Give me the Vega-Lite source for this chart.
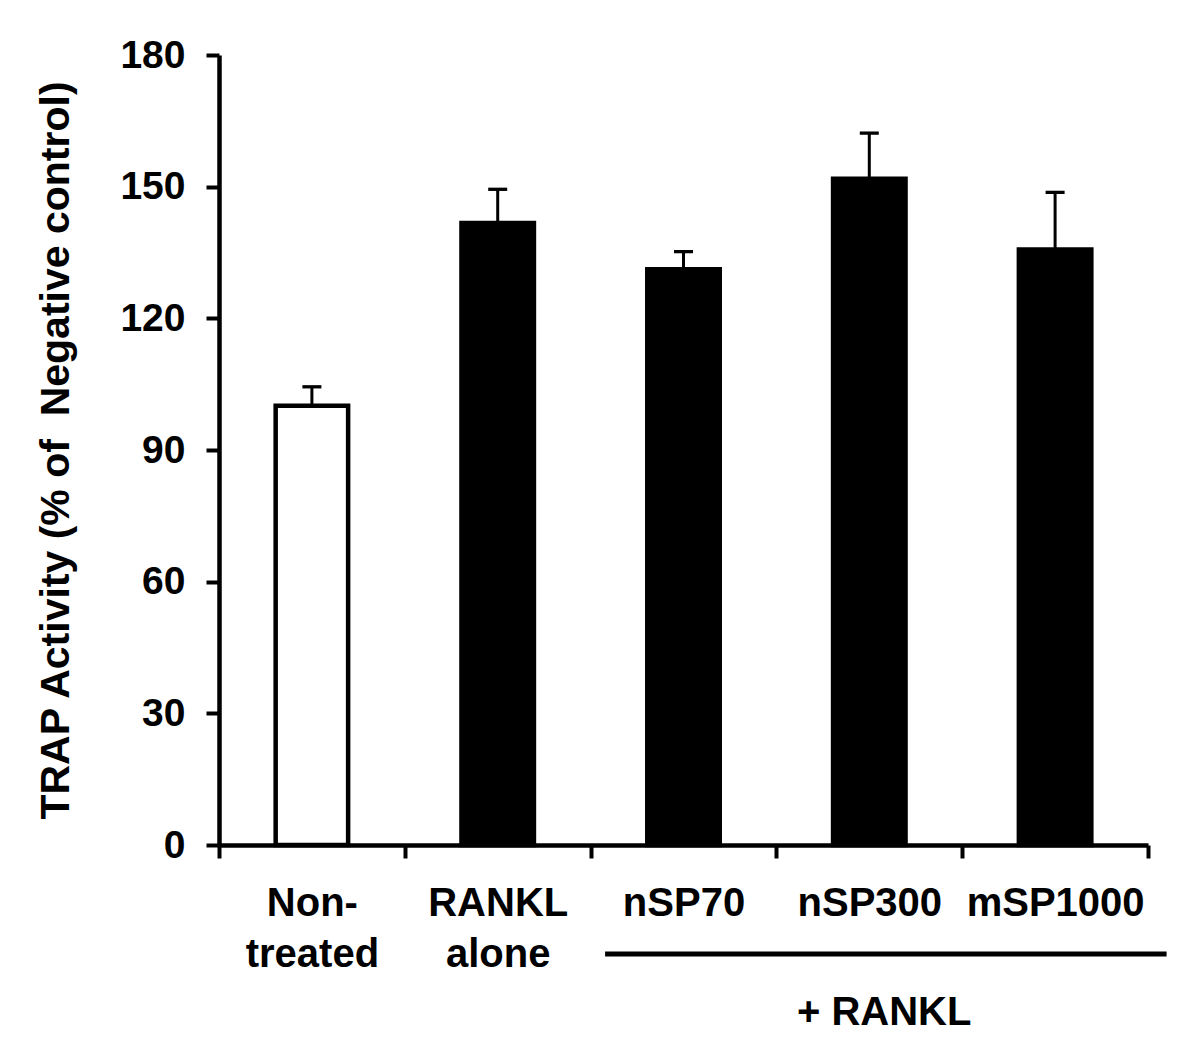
{
  "$schema": "https://vega.github.io/schema/vega-lite/v6.json",
  "width": 929,
  "height": 790,
  "autosize": {"type": "none"},
  "padding": {"left": 219, "top": 55, "right": 52, "bottom": 198},
  "background": "white",
  "config": {"view": {"stroke": null}, "font": "Liberation Sans"},
  "datasets": {
    "bars": [
      {"treatment": "Non-treated", "group": "control", "activity": 100.1, "error_upper": 104.4},
      {"treatment": "RANKL alone", "group": "RANKL", "activity": 141.7, "error_upper": 149.4},
      {"treatment": "nSP70", "group": "RANKL", "activity": 131.2, "error_upper": 135.2},
      {"treatment": "nSP300", "group": "RANKL", "activity": 151.8, "error_upper": 162.2},
      {"treatment": "mSP1000", "group": "RANKL", "activity": 135.7, "error_upper": 148.7}
    ],
    "bracket": [
      {"label": "+ RANKL", "first": "nSP70", "middle": "nSP300", "last": "mSP1000"}
    ]
  },
  "layer": [
    {
      "data": {"name": "bars"},
      "mark": {"type": "bar", "stroke": "black", "strokeWidth": 4.5, "width": {"band": 0.39}},
      "encoding": {
        "x": {
          "field": "treatment", "type": "nominal", "sort": null, "title": null,
          "scale": {"domain": ["Non-treated", "RANKL alone", "nSP70", "nSP300", "mSP1000"], "paddingInner": 0, "paddingOuter": 0},
          "axis": {
            "domainColor": "black", "domainWidth": 4.5, "tickColor": "black", "tickWidth": 4, "tickSize": 13,
            "tickBand": "extent", "labelAngle": 0, "labelFont": "Liberation Sans", "labelFontWeight": "bold",
            "labelFontSize": 40, "labelColor": "black", "labelPadding": 25, "labelLineHeight": 51, "grid": false,
            "labelExpr": "datum.value === 'Non-treated' ? ['Non-', 'treated'] : datum.value === 'RANKL alone' ? ['RANKL', 'alone'] : datum.label"
          }
        },
        "y": {
          "field": "activity", "type": "quantitative", "title": "TRAP Activity (% of\u00a0 Negative control)",
          "scale": {"domain": [0, 180], "nice": false},
          "axis": {
            "domainColor": "black", "domainWidth": 4.5, "tickColor": "black", "tickWidth": 4, "tickSize": 13,
            "values": [0, 30, 60, 90, 120, 150, 180], "labelFont": "Liberation Sans", "labelFontWeight": "bold",
            "labelFontSize": 39, "labelColor": "black", "labelPadding": 21, "grid": false,
            "titleFont": "Liberation Sans", "titleFontSize": 41, "titleFontWeight": "bold", "titleColor": "black", "titlePadding": 42
          }
        },
        "fill": {"field": "group", "type": "nominal", "scale": {"domain": ["control", "RANKL"], "range": ["white", "black"]}, "legend": null}
      }
    },
    {
      "data": {"name": "bars"},
      "mark": {"type": "rule", "strokeWidth": 3, "color": "black"},
      "encoding": {
        "x": {"field": "treatment", "type": "nominal", "title": null},
        "y": {"field": "activity", "type": "quantitative", "title": "TRAP Activity (% of\u00a0 Negative control)"},
        "y2": {"field": "error_upper"}
      }
    },
    {
      "data": {"name": "bars"},
      "mark": {"type": "tick", "size": 19, "thickness": 3.3, "color": "black", "opacity": 1},
      "encoding": {
        "x": {"field": "treatment", "type": "nominal", "title": null},
        "y": {"field": "error_upper", "type": "quantitative", "title": "TRAP Activity (% of\u00a0 Negative control)"}
      }
    },
    {
      "data": {"name": "bracket"},
      "mark": {"type": "rule", "strokeWidth": 5, "color": "black"},
      "encoding": {
        "x": {"field": "first", "type": "nominal", "bandPosition": 0.078, "title": null},
        "x2": {"field": "last", "bandPosition": 1.1},
        "y": {"value": 899}
      }
    },
    {
      "data": {"name": "bracket"},
      "mark": {"type": "text", "fontSize": 40, "fontWeight": "bold", "font": "Liberation Sans", "baseline": "alphabetic", "align": "center", "color": "black"},
      "encoding": {
        "x": {"field": "middle", "type": "nominal", "bandPosition": 0.58, "title": null},
        "y": {"value": 970},
        "text": {"field": "label"}
      }
    }
  ]
}
